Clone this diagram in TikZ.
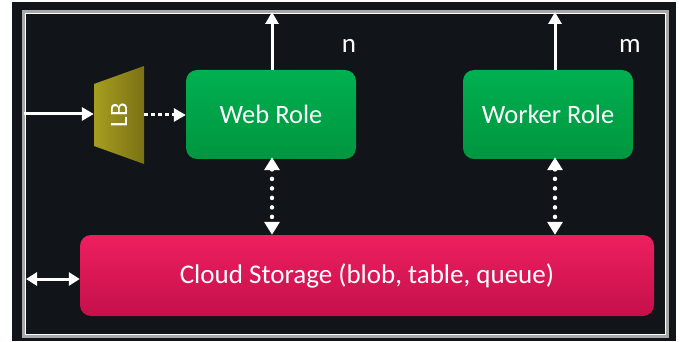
\documentclass[tikz,border=0pt]{standalone}
\usepackage{fontspec}
\setmainfont{Carlito}
\usetikzlibrary{arrows.meta}
\definecolor{panel}{HTML}{111418}
\definecolor{framegray}{HTML}{A8A8A8}
\definecolor{greenTop}{HTML}{00B050}
\definecolor{greenBot}{HTML}{00963F}
\definecolor{pinkTop}{HTML}{EE1F5F}
\definecolor{pinkBot}{HTML}{C4104B}
\definecolor{lbLeft}{HTML}{A69E20}
\definecolor{lbRight}{HTML}{7A7114}
\tikzset{
  role/.style={rounded corners=11, top color=greenTop, bottom color=greenBot,
    minimum width=170, minimum height=89, text=white,
    font=\fontsize{26.5}{30}\selectfont},
  storebox/.style={rounded corners=11, top color=pinkTop, bottom color=pinkBot,
    minimum width=574, minimum height=81, text=white,
    font=\fontsize{27}{30}\selectfont},
  label/.style={text=white, font=\fontsize{27}{30}\selectfont},
  tip/.style={-{Triangle[length=12,width=13]}},
  solidarrow/.style={white, line width=3, tip},
  dashedarrow/.style={white, line width=3, dash pattern=on 4 off 3, tip},
  dottedarrow/.style={white, line width=4.5, line cap=round, dash pattern=on 0 off 9.5,
    {Triangle[length=13,width=15,line cap=butt]}-{Triangle[length=13,width=15,line cap=butt]}},
  bothways/.style={white, line width=3, {Triangle[length=11,width=13]}-{Triangle[length=11,width=13]}}
}
\begin{document}
\begin{tikzpicture}[x=1pt,y=-1pt]
\useasboundingbox (0,0) rectangle (680,342);
\fill[white] (0,0) rectangle (680,342);
% dark panel with a double light frame
\fill[panel] (12,2) rectangle (676,341);
\draw[framegray, line width=3.5] (24,12) rectangle (667,336);
\draw[white, line width=1.2] (25.5,13.5) rectangle (665.5,334.5);

% load balancer (trapezoid)
\shade[left color=lbLeft, right color=lbRight] (94,84) -- (144,66) -- (144,164) -- (94,146) -- cycle;
\node[minimum width=50, minimum height=62, inner sep=0, text=white,
  font=\fontsize{25}{28}\selectfont] (lb) at (119,115) {\rotatebox{90}{LB}};

% roles and storage
\node[role] (web) at (271,114.5) {Web Role};
\node[role] (worker) at (548,114.5) {Worker Role};
\node[storebox] (store) at (367,275.5) {Cloud Storage (blob, table, queue)};

\node[label] (n) at (349,46) {n};
\node[label] (m) at (630,46) {m};

% frame anchor points
\coordinate (inL) at (24,114);
\coordinate (stL) at (26,279);
\coordinate (webOut) at (272,12);
\coordinate (workOut) at (555,12);
\coordinate (webB) at ([xshift=1]web.south);
\coordinate (workB) at ([xshift=7]worker.south);
\coordinate (webT) at ([xshift=1]web.north);
\coordinate (workT) at ([xshift=7]worker.north);

% connectors
\draw[solidarrow] (inL) -- (lb.west |- inL);
\draw[dashedarrow] (lb.east) -- (web.west |- lb.east);
\draw[solidarrow] (webT) -- (webOut);
\draw[solidarrow] (workT) -- (workOut);
\draw[dottedarrow] ([yshift=2]webB) -- (store.north -| webB);
\draw[dottedarrow] ([yshift=2]workB) -- (store.north -| workB);
\draw[bothways] (stL) -- (store.west |- stL);
\end{tikzpicture}
\end{document}
